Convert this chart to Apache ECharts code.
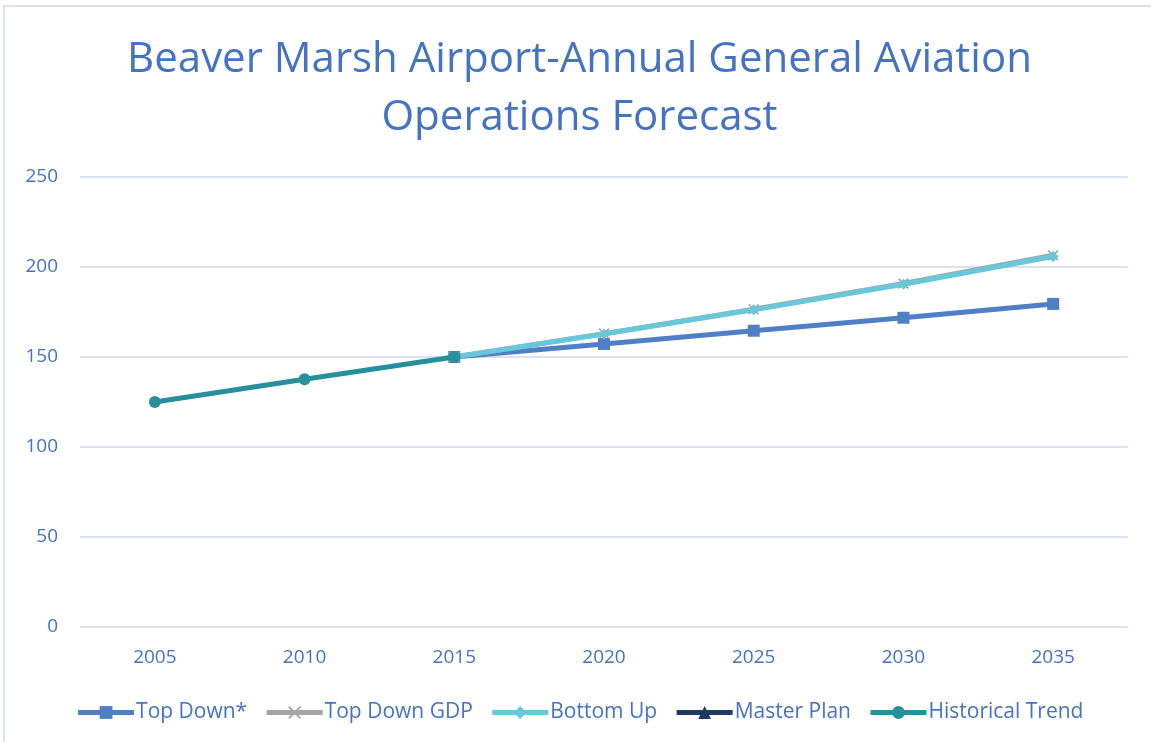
<!DOCTYPE html>
<html>
<head>
<meta charset="utf-8">
<script src="https://cdn.jsdelivr.net/npm/echarts@6/dist/echarts.min.js"></script>
<style>
  html, body { margin: 0; padding: 0; background: #fff; }
  #chart { width: 1151px; height: 742px; box-sizing: border-box; border: 2px solid #d9e1f2; border-right: none; border-bottom: none; margin-left: 3px; margin-top: 5px; }
</style>
</head>
<body>
<div id="chart"></div>
<script>
  // categories and series values
  var years = ['2005', '2010', '2015', '2020', '2025', '2030', '2035'];
  var topDown = [null, null, 150, 157.2, 164.6, 171.8, 179.5];
  var topDownGdp = [null, null, 150, 163, 176.5, 190.8, 206.5];
  var bottomUp = [null, null, 150, 162.8, 176.2, 190.4, 205.8];
  var masterPlan = [null, null, null, null, null, null, null];
  var historical = [125, 137.6, 150, null, null, null, null];
  var yTicks = [0, 50, 100, 150, 200, 250];

  var textColor = '#4472c4';
  var font = 'Open Sans';
  var xMark = 'path://M1,0L5,4L9,0L10,1L6,5L10,9L9,10L5,6L1,10L0,9L4,5L0,1Z';

  function lineSeries(name, data, color, symbol, size) {
    return {
      name: name,
      type: 'line',
      data: data,
      symbol: symbol,
      symbolSize: size,
      showAllSymbol: true,
      connectNulls: false,
      lineStyle: { width: 5, color: color },
      itemStyle: { color: color },
      emphasis: { disabled: true }
    };
  }

  var myChart = echarts.init(document.getElementById('chart'));
  myChart.setOption({
    animation: false,
    title: {
      text: 'Beaver Marsh Airport-Annual General Aviation\nOperations Forecast',
      left: 'center',
      top: 19,
      textStyle: { color: textColor, fontSize: 42, fontWeight: 'normal', fontFamily: font, lineHeight: 58 }
    },
    legend: {
      top: 690,
      left: 'center',
      itemWidth: 56,
      itemHeight: 16,
      itemGap: 17,
      lineStyle: { width: 5 },
      textStyle: { color: textColor, fontSize: 21, fontFamily: font, padding: [0, 0, 0, -3] },
      data: ['Top Down*', 'Top Down GDP', 'Bottom Up', 'Master Plan', 'Historical Trend']
    },
    grid: { left: 75, right: 26, top: 170, bottom: 120 },
    xAxis: {
      type: 'category',
      data: years,
      boundaryGap: true,
      axisLine: { show: false },
      axisTick: { show: false },
      axisLabel: { color: textColor, fontSize: 19, fontFamily: font, margin: 21 }
    },
    yAxis: {
      type: 'value',
      min: yTicks[0],
      max: yTicks[yTicks.length - 1],
      interval: 50,
      axisLine: { show: false },
      axisTick: { show: false },
      axisLabel: { color: textColor, fontSize: 19, fontFamily: font, margin: 22 },
      splitLine: { lineStyle: { color: '#d9e1f2', width: 2 } }
    },
    series: [
      lineSeries('Top Down*', topDown, '#4f7fc5', 'rect', 12),
      lineSeries('Top Down GDP', topDownGdp, '#a5a5a5', xMark, 11),
      lineSeries('Bottom Up', bottomUp, '#67c8da', 'diamond', 11),
      lineSeries('Master Plan', masterPlan, '#203864', 'triangle', 11),
      lineSeries('Historical Trend', historical, '#27909d', 'circle', 12)
    ]
  });
</script>
</body>
</html>
